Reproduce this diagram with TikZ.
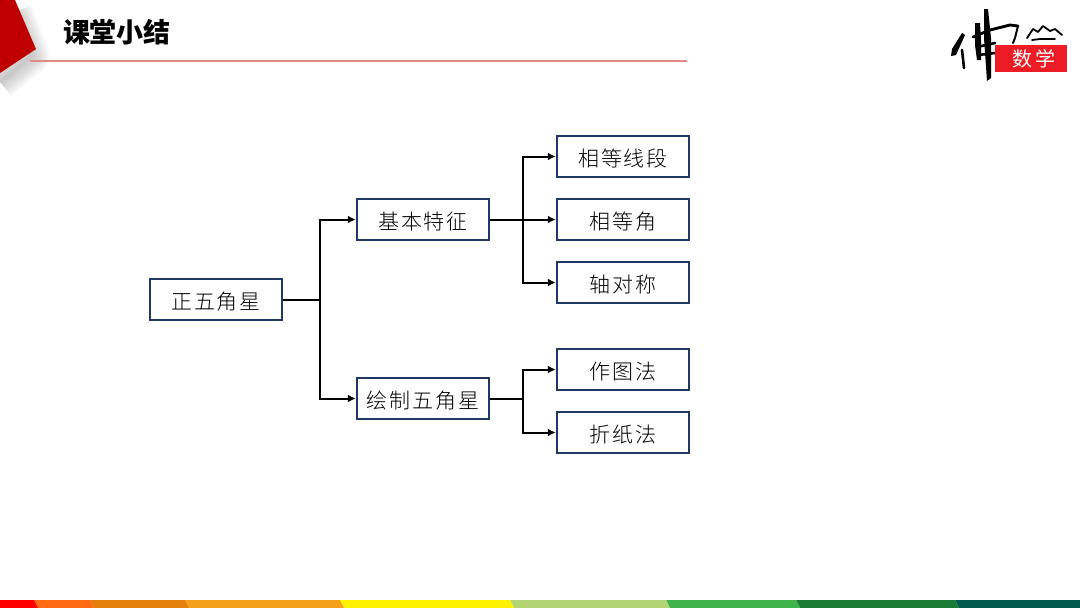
\documentclass[tikz,border=0pt]{standalone}
\usepackage{fontspec}
\setmainfont{Noto Sans CJK SC}
\newfontfamily\boxfont[LetterSpace=9,UprightFont=* Light]{Noto Sans CJK SC}
\usetikzlibrary{arrows.meta}
\definecolor{boxline}{HTML}{1F3864}
\definecolor{titlered}{HTML}{C00000}
\definecolor{ruleline}{HTML}{DF8C86}
\definecolor{logored}{HTML}{EE1C25}
\begin{document}
\begin{tikzpicture}[x=1pt,y=-1pt,
	box/.style={draw=boxline,line width=2pt,minimum width=132.5pt,minimum height=40.5pt,inner sep=0pt,text height=20pt,text depth=0pt,font=\fontsize{21}{24}\selectfont\boxfont},
	link/.style={black,line width=2pt,-{Latex[length=8pt,width=8pt]}},
	brush/.style={black,line cap=round,line join=round}]
	\useasboundingbox(0,0)rectangle(1080,608);
	% corner and title
	\foreach\w in{36,33,...,1}{\draw[black,opacity=.018,line width=\w pt,line join=round](15,12)--(32,56)--(0,82);}
	\fill[titlered](15,0)--(36,49)--(0,73)--(0,0)--cycle;
	\node(title)at(117,32){\fontsize{27}{30}\selectfont\bfseries 课堂小结};
	\coordinate(R1)at(30,61);
	\coordinate(R2)at(687,61);
	\draw[ruleline,line width=1.2pt](R1)--(R2);
	% logo
	\fill[brush](962,33)--(952,49)--(951,56)--(956,55)--(965,35)--cycle;
	\draw[brush,line width=2.6pt](962,50)--(964,68);
	\fill[brush](975,23)--(975,45)--(977,60)--(981,60)--(981,40)--(980,23)--cycle;
	\fill[brush](984,9)--(984,38)--(987,81)--(991,78)--(991,38)--(988,9)--cycle;
	\draw[brush,line width=2.8pt](973,37)--(990,30)--(1010,25)--(1018,26);
	\draw[brush,line width=2pt](1018,26)--(1015,38)--(1013,43);
	\draw[brush,line width=2.6pt](977,47)--(995,43);
	\draw[brush,line width=2.6pt](978,55)--(995,53);
	\draw[brush,line width=1.8pt](1027,38)--(1033,29)--(1038,32)--(1043,26)--(1050,31)--(1055,29)--(1062,35);
	\draw[brush,line width=1.8pt](1032,40)--(1040,39)--(1055,39);
	\fill[logored](995,45)rectangle(1067,72);
	\node[text=white,font=\fontsize{20}{22}\selectfont](logotext)at(1034,58.5){数\hspace{3pt}学};
	% boxes
	\node[box](star)at(216,299.5){正五角星};
	\node[box](feat)at(423,219.5){基本特征};
	\node[box](draw)at(423,398.5){绘制五角星};
	\node[box](seg)at(623,156.5){相等线段};
	\node[box](ang)at(623,219.5){相等角};
	\node[box](axis)at(623,282.5){轴对称};
	\node[box](ruler)at(623,369.5){作图法};
	\node[box](fold)at(623,432.5){折纸法};
	% connectors
	\coordinate(J1)at(320,299.5);
	\coordinate(J2)at(523,219.5);
	\coordinate(J3)at(523,398.5);
	\draw[link](star.east)--(J1)|-(feat.west);
	\draw[link](star.east)--(J1)|-(draw.west);
	\foreach\p in{seg,ang,axis}{\draw[link](feat.east)--(J2)|-(\p.west);}
	\foreach\p in{ruler,fold}{\draw[link](draw.east)--(J3)|-(\p.west);}
	% bottom band
	\foreach\a/\b/\c in{955/1084/005B4F,796/955/1B7A34,666/796/3FB44A,510/666/B2D474,340/510/FFF200,185/340/F5A01A,90/185/E47F0A,34/90/FF6A13,-4/34/FF0000}{
		\definecolor{band}{HTML}{\c}
		\fill[band](\a,600)--(\b,600)--(\b+4,608)--(\a+4,608)--cycle;
	}
\end{tikzpicture}
\end{document}
